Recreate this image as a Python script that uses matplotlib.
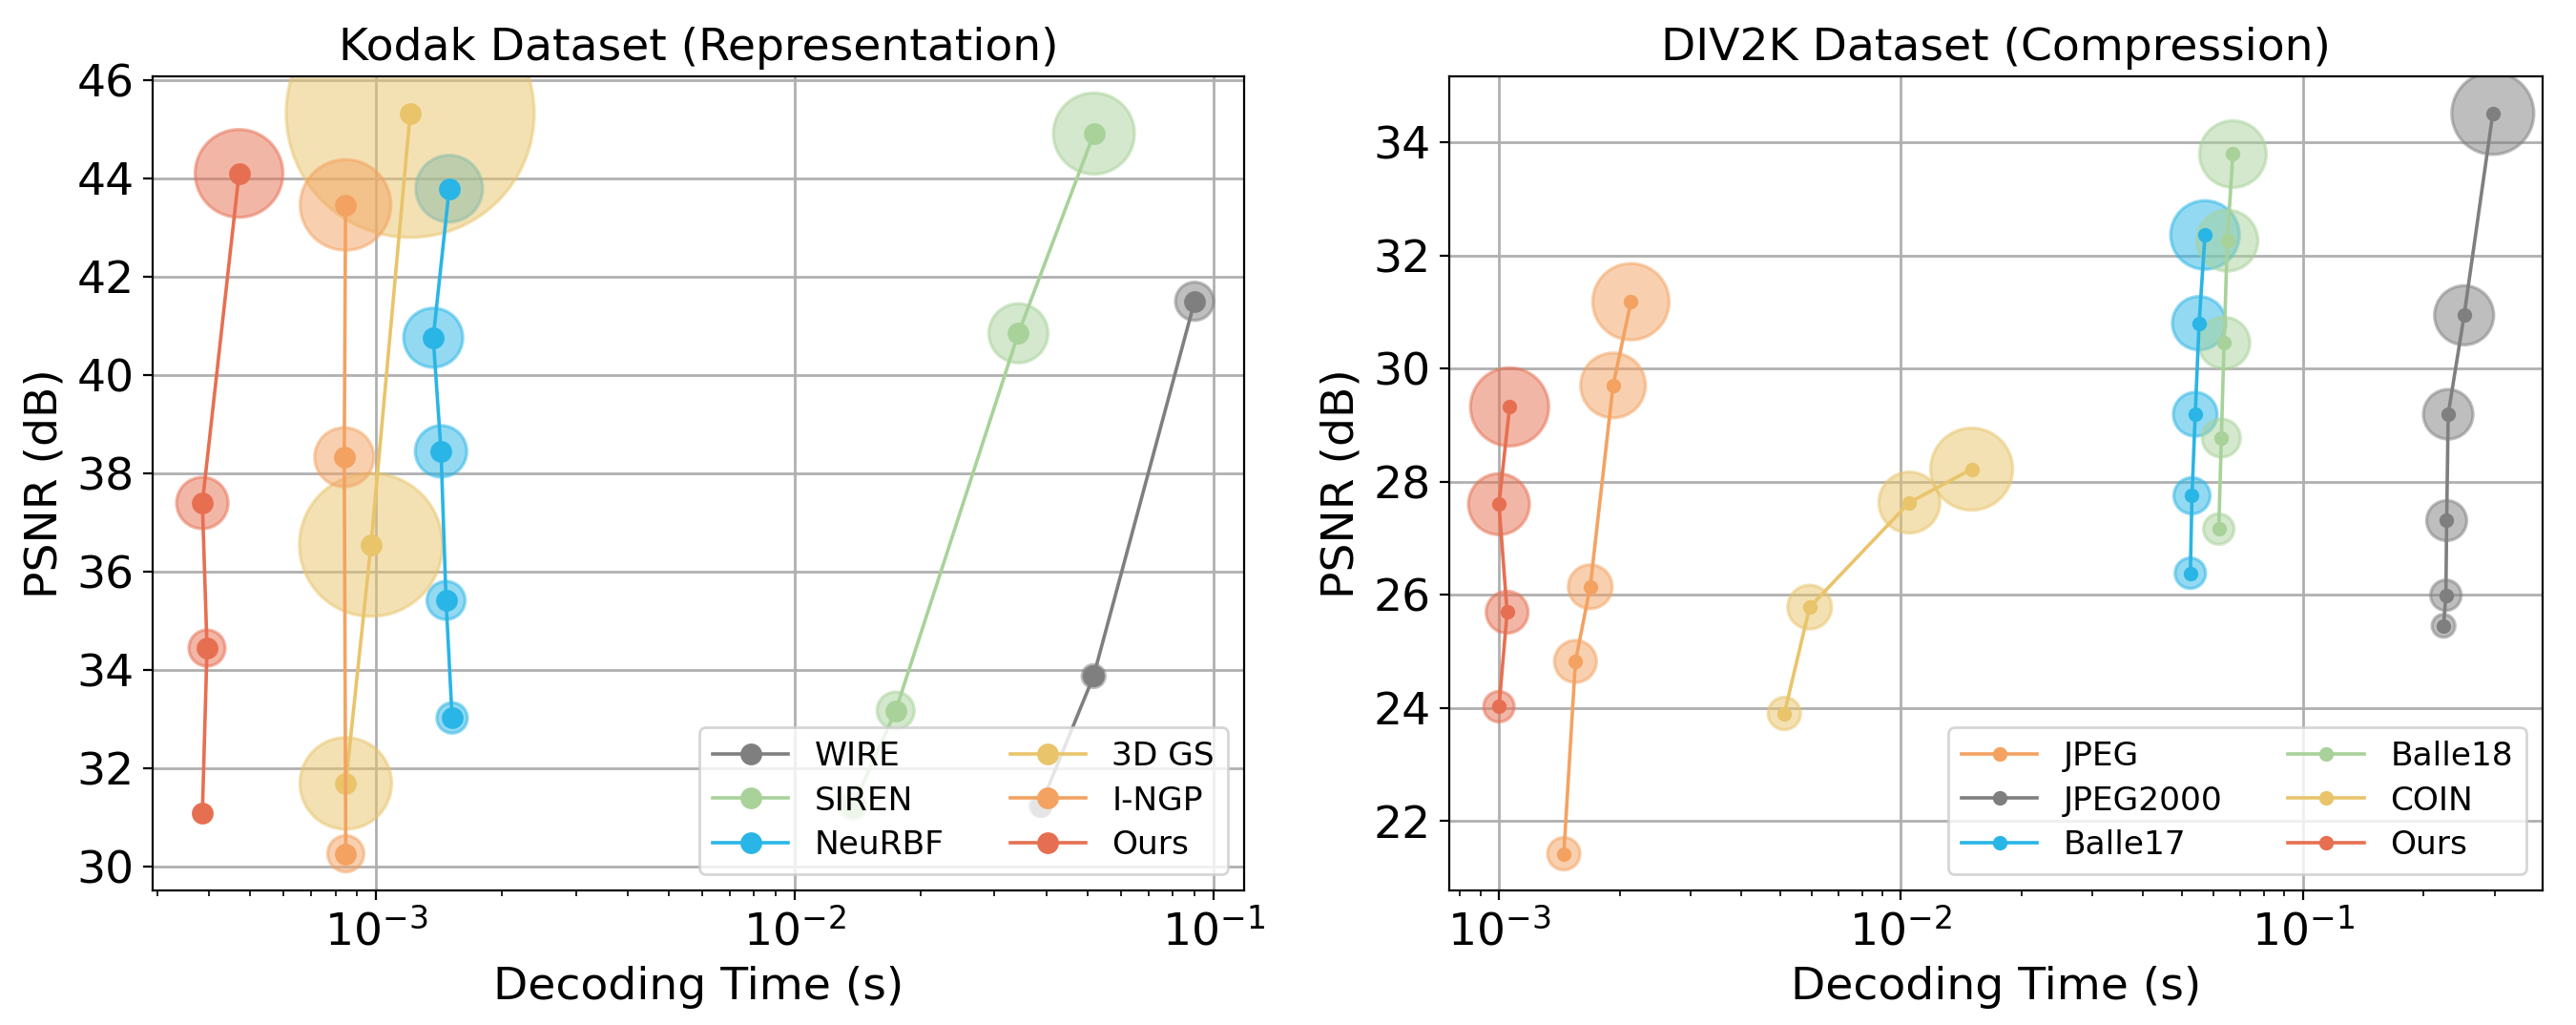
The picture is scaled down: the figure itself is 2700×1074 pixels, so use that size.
import matplotlib
matplotlib.use('Agg')
import matplotlib.pyplot as plt

# ---------------- Kodak Dataset (Representation) ----------------
kodak_wire_time = [0.0386, 0.0517, 0.0901]
kodak_wire_psnr = [31.24, 33.88, 41.50]
kodak_wire_bubble = [11, 12, 20]

kodak_siren_time = [0.01377, 0.01742, 0.0342, 0.0518]
kodak_siren_psnr = [31.24, 33.18, 40.85, 44.91]
kodak_siren_bubble = [14, 19.5, 31, 42.5]

kodak_neurbf_time = [1.52e-3, 1.47e-3, 1.43e-3, 1.37e-3, 1.496e-3]
kodak_neurbf_psnr = [33.03, 35.42, 38.45, 40.76, 43.79]
kodak_neurbf_bubble = [16, 20, 27, 31, 35]

kodak_3dgs_time = [8.47e-4, 9.73e-4, 1.207e-3]
kodak_3dgs_psnr = [31.70, 36.55, 45.32]
kodak_3dgs_bubble = [48, 75, 130]

kodak_ingp_time = [8.47e-4, 8.40e-4, 8.46e-4]
kodak_ingp_psnr = [30.27, 38.33, 43.46]
kodak_ingp_bubble = [19, 31, 47.5]

kodak_ours_time = [3.85e-4, 3.95e-4, 3.85e-4, 4.71e-4]
kodak_ours_psnr = [31.09, 34.45, 37.40, 44.10]
kodak_ours_bubble = [9, 19, 27, 46]

# ---------------- DIV2K Dataset (Compression) ----------------
div_jpeg_time = [1.45e-3, 1.55e-3, 1.687e-3, 1.923e-3, 2.13e-3]
div_jpeg_psnr = [21.42, 24.82, 26.14, 29.70, 31.18]
div_jpeg_bubble = [17, 22, 23, 34, 40]

div_jpeg2000_time = [0.224, 0.227, 0.228, 0.230, 0.252, 0.297]
div_jpeg2000_psnr = [25.45, 25.99, 27.31, 29.19, 30.94, 34.51]
div_jpeg2000_bubble = [12, 16, 21, 26, 31, 43]

div_balle17_time = [0.0525, 0.0530, 0.0540, 0.0552, 0.0571]
div_balle17_psnr = [26.38, 27.75, 29.19, 30.80, 32.36]
div_balle17_bubble = [16, 19, 23, 28, 36]

div_balle18_time = [0.0618, 0.0627, 0.0637, 0.0649, 0.0670]
div_balle18_psnr = [27.16, 28.77, 30.45, 32.26, 33.79]
div_balle18_bubble = [16, 20, 27, 32, 35]

div_coin_time = [5.13e-3, 5.93e-3, 1.05e-2, 1.50e-2]
div_coin_psnr = [23.90, 25.78, 27.63, 28.22]
div_coin_bubble = [17, 23, 32, 43]

div_ours_time = [1.0e-3, 1.048e-3, 1.0e-3, 1.063e-3]
div_ours_psnr = [24.02, 25.69, 27.60, 29.32]
div_ours_bubble = [16, 22, 32, 41]

C_GRAY = '#7f7f7f'
C_GREEN = '#a8d29a'
C_BLUE = '#29b5e6'
C_YELLOW = '#e9c46a'
C_ORANGE = '#f4a261'
C_RED = '#e76f51'

DPI = 200
FS = 17
LEG_FS = 12.4

kodak_series = [
    ('WIRE', kodak_wire_time, kodak_wire_psnr, kodak_wire_bubble, C_GRAY),
    ('SIREN', kodak_siren_time, kodak_siren_psnr, kodak_siren_bubble, C_GREEN),
    ('NeuRBF', kodak_neurbf_time, kodak_neurbf_psnr, kodak_neurbf_bubble, C_BLUE),
    ('3D GS', kodak_3dgs_time, kodak_3dgs_psnr, kodak_3dgs_bubble, C_YELLOW),
    ('I-NGP', kodak_ingp_time, kodak_ingp_psnr, kodak_ingp_bubble, C_ORANGE),
    ('Ours', kodak_ours_time, kodak_ours_psnr, kodak_ours_bubble, C_RED),
]
div_series = [
    ('JPEG', div_jpeg_time, div_jpeg_psnr, div_jpeg_bubble, C_ORANGE),
    ('JPEG2000', div_jpeg2000_time, div_jpeg2000_psnr, div_jpeg2000_bubble, C_GRAY),
    ('Balle17', div_balle17_time, div_balle17_psnr, div_balle17_bubble, C_BLUE),
    ('Balle18', div_balle18_time, div_balle18_psnr, div_balle18_bubble, C_GREEN),
    ('COIN', div_coin_time, div_coin_psnr, div_coin_bubble, C_YELLOW),
    ('Ours', div_ours_time, div_ours_psnr, div_ours_bubble, C_RED),
]


def bubble_area(b):
    # bubble value -> scatter area (points^2)
    return [(2 * v * 72.0 / DPI) ** 2 for v in b]


fig = plt.figure(figsize=(13.5, 5.37), dpi=DPI)
ax1 = fig.add_axes([0.0593, 0.131, 0.4237, 0.7945])
ax2 = fig.add_axes([0.5626, 0.131, 0.4244, 0.7945])


def draw(ax, series, ms, title, yticks):
    for name, t, p, b, c in series:
        ax.scatter(t, p, s=bubble_area(b), color=c, alpha=0.5,
                   edgecolors=c, linewidths=1.2, zorder=2)
        ax.plot(t, p, '-o', color=c, lw=1.3, ms=ms, label=name, zorder=3)
    ax.set_xscale('log')
    ax.set_yticks(yticks)
    ax.grid(True, which='major', color='#b0b0b0', lw=1.0)
    ax.set_axisbelow(True)
    ax.set_title(title, fontsize=FS)
    ax.set_xlabel('Decoding Time (s)', fontsize=FS)
    ax.set_ylabel('PSNR (dB)', fontsize=FS)
    ax.tick_params(axis='both', which='major', labelsize=FS)
    ax.legend(loc='lower right', ncol=2, fontsize=LEG_FS, handlelength=2.3,
              labelspacing=0.4)


draw(ax1, kodak_series, 7.2, 'Kodak Dataset (Representation)', list(range(30, 47, 2)))
draw(ax2, div_series, 4.5, 'DIV2K Dataset (Compression)', list(range(22, 35, 2)))

fig.savefig('out.png', dpi=DPI)
